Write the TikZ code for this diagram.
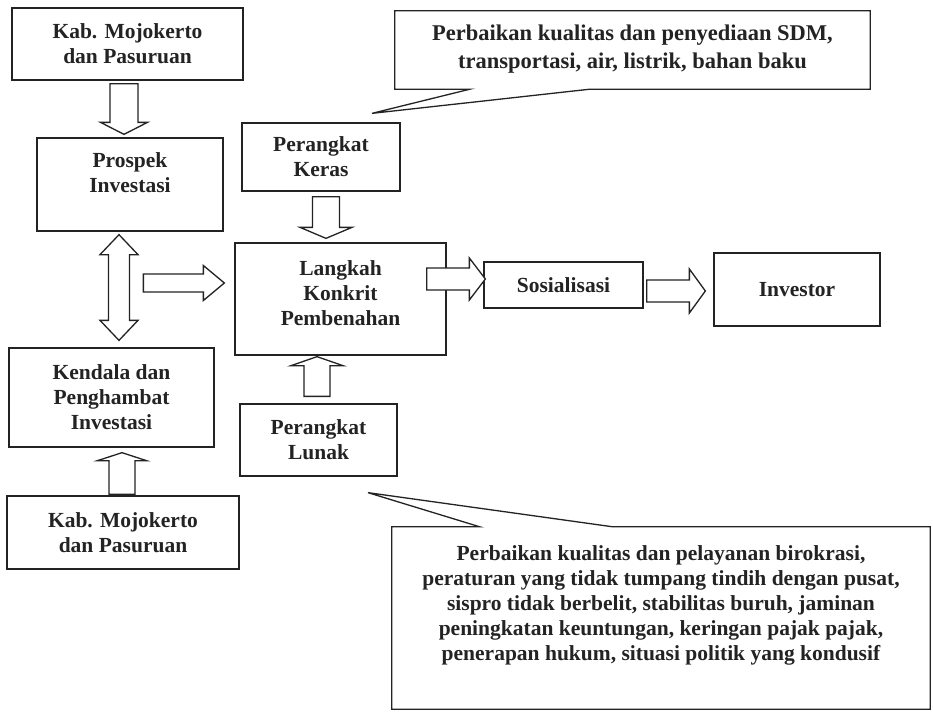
\documentclass[tikz,border=0pt]{standalone}
\usepackage{fontspec}
\setmainfont{Liberation Serif}
\usetikzlibrary{calc}
\definecolor{ink}{RGB}{35,35,35}
\tikzset{
  box/.style={draw=ink, line width=1.3pt, rectangle, inner sep=0pt, line join=miter},
  txt/.style={font=\fontsize{21.5}{25}\selectfont\bfseries, text=ink, align=center, inner sep=0pt},
  ctxtA/.style={font=\fontsize{22.5}{27.5}\selectfont\bfseries, text=ink, align=center, inner sep=0pt},
  ctxtB/.style={font=\fontsize{21.5}{25}\selectfont\bfseries, text=ink, align=center, inner sep=0pt},
  blk/.style={draw=ink, line width=1.3pt, fill=white, line join=miter},
}
% block arrows: #1 start, #2 end, #3 shaft half width, #4 head half width, #5 head length
\newcommand\blkdown[5]{\draw[blk] let \p1=(#1), \p2=(#2) in
  (\x1-#3,\y1) -- (\x1-#3,\y2+#5) -- (\x1-#4,\y2+#5) -- (\x1,\y2) -- (\x1+#4,\y2+#5) -- (\x1+#3,\y2+#5) -- (\x1+#3,\y1) -- cycle;}
\newcommand\blkup[5]{\draw[blk] let \p1=(#1), \p2=(#2) in
  (\x1-#3,\y1) -- (\x1-#3,\y2-#5) -- (\x1-#4,\y2-#5) -- (\x1,\y2) -- (\x1+#4,\y2-#5) -- (\x1+#3,\y2-#5) -- (\x1+#3,\y1) -- cycle;}
\newcommand\blkright[5]{\draw[blk] let \p1=(#1), \p2=(#2) in
  (\x1,\y1-#3) -- (\x2-#5,\y1-#3) -- (\x2-#5,\y1-#4) -- (\x2,\y1) -- (\x2-#5,\y1+#4) -- (\x2-#5,\y1+#3) -- (\x1,\y1+#3) -- cycle;}
\newcommand\blkboth[5]{\draw[blk] let \p1=(#1), \p2=(#2) in
  (\x1,\y1) -- (\x1+#4,\y1-#5) -- (\x1+#3,\y1-#5) -- (\x1+#3,\y2+#5) -- (\x1+#4,\y2+#5) -- (\x1,\y2)
  -- (\x1-#4,\y2+#5) -- (\x1-#3,\y2+#5) -- (\x1-#3,\y1-#5) -- (\x1-#4,\y1-#5) -- cycle;}
\begin{document}
\begin{tikzpicture}[x=1pt,y=-1pt]
\useasboundingbox (0,0) rectangle (933,718);
\fill[white] (0,0) rectangle (933,718);

% boxes
\node[box, txt, minimum width=231pt, minimum height=72pt] (kab1) at (127.5,44) {Kab. Mojokerto\\dan Pasuruan};
\node[box, minimum width=186pt, minimum height=93pt] (prospek) at (130,184.5) {};
\node[txt] (prospekT) at ($(prospek.center)+(0,-12)$) {Prospek\\Investasi};
\node[box, txt, minimum width=158pt, minimum height=68pt] (keras) at (321,157) {Perangkat\\Keras};
\node[box, minimum width=211pt, minimum height=112pt] (langkah) at (340.5,299) {};
\node[txt] (langkahT) at ($(langkah.center)+(0,-6)$) {Langkah\\Konkrit\\Pembenahan};
\node[box, txt, minimum width=157pt, minimum height=72pt] (lunak) at (318.5,440) {Perangkat\\Lunak};
\node[box, txt, minimum width=205pt, minimum height=99pt] (kendala) at (111.5,397.5) {Kendala dan\\Penghambat\\Investasi};
\node[box, txt, minimum width=232pt, minimum height=73pt] (kab2) at (123,532.5) {Kab. Mojokerto\\dan Pasuruan};
\node[box, txt, minimum width=159pt, minimum height=46pt] (sos) at (563.5,285) {Sosialisasi};
\node[box, txt, minimum width=166pt, minimum height=73pt] (inv) at (797,289.5) {Investor};

% callouts
\node[inner sep=0pt, minimum width=475pt, minimum height=78pt] (cb1) at (632.5,50) {};
\coordinate (t1) at ($(keras.north)+(51,-9)$);
\draw[box] (cb1.north west) -- (cb1.north east) -- (cb1.south east)
  -- ($(cb1.south west)+(195,0)$) -- (t1) -- ($(cb1.south west)+(75,0)$) -- (cb1.south west) -- cycle;
\node[ctxtA] (cb1T) at ($(cb1.center)+(0,-1)$) {Perbaikan kualitas dan penyediaan SDM,\\transportasi, air, listrik, bahan baku};

\node[inner sep=0pt, minimum width=538pt, minimum height=182pt] (cb2) at (661,618) {};
\coordinate (t2) at ($(lunak.south)+(49.5,16)$);
\draw[box] (cb2.north west) -- ($(cb2.north west)+(88,0)$) -- (t2) -- ($(cb2.north west)+(221,0)$)
  -- (cb2.north east) -- (cb2.south east) -- (cb2.south west) -- cycle;
\node[ctxtB] (cb2T) at ($(cb2.center)+(0,-13)$) {Perbaikan kualitas dan pelayanan birokrasi,\\peraturan yang tidak tumpang tindih dengan pusat,\\sispro tidak berbelit, stabilitas buruh, jaminan\\peningkatan keuntungan, keringan pajak pajak,\\penerapan hukum, situasi politik yang kondusif};

% block arrows
\coordinate (a1s) at ($(kab1.south)+(-3.5,3)$);
\coordinate (a1e) at ($(prospek.north)+(0,-3)$);
\blkdown{a1s}{a1e}{14pt}{23.5pt}{12pt}

\coordinate (a2s) at ($(keras.south)+(5,5)$);
\coordinate (a2e) at ($(langkah.north)+(0,-4)$);
\blkdown{a2s}{a2e}{13.5pt}{26pt}{11pt}

\coordinate (a3s) at ($(lunak.north)+(-1.5,-7)$);
\coordinate (a3e) at ($(langkah.south)+(0,1)$);
\blkup{a3s}{a3e}{13pt}{26pt}{9pt}

\coordinate (a4s) at ($(langkah.west)+(-91,-16)$);
\coordinate (a4e) at ($(langkah.west)+(-10,-16)$);
\blkright{a4s}{a4e}{9pt}{17.5pt}{21pt}

\coordinate (a5s) at ($(prospek.south)+(-11,3)$);
\coordinate (a5e) at ($(kendala.north)+(0,-7)$);
\blkboth{a5s}{a5e}{10.5pt}{19pt}{20pt}

\coordinate (a6s) at ($(kab2.north)+(-1,-1)$);
\coordinate (a6e) at ($(kendala.south)+(0,5)$);
\blkup{a6s}{a6e}{13pt}{24.5pt}{8pt}

\coordinate (a7s) at ($(langkah.east)+(-20,-20)$);
\coordinate (a7e) at ($(sos.west)+(2,0)$);
\blkright{a7s}{a7e}{11pt}{21pt}{16pt}

\coordinate (a8s) at ($(sos.east)+(3,6)$);
\coordinate (a8e) at ($(inv.west)+(-8,0)$);
\blkright{a8s}{a8e}{11pt}{22pt}{16pt}
\end{tikzpicture}
\end{document}
